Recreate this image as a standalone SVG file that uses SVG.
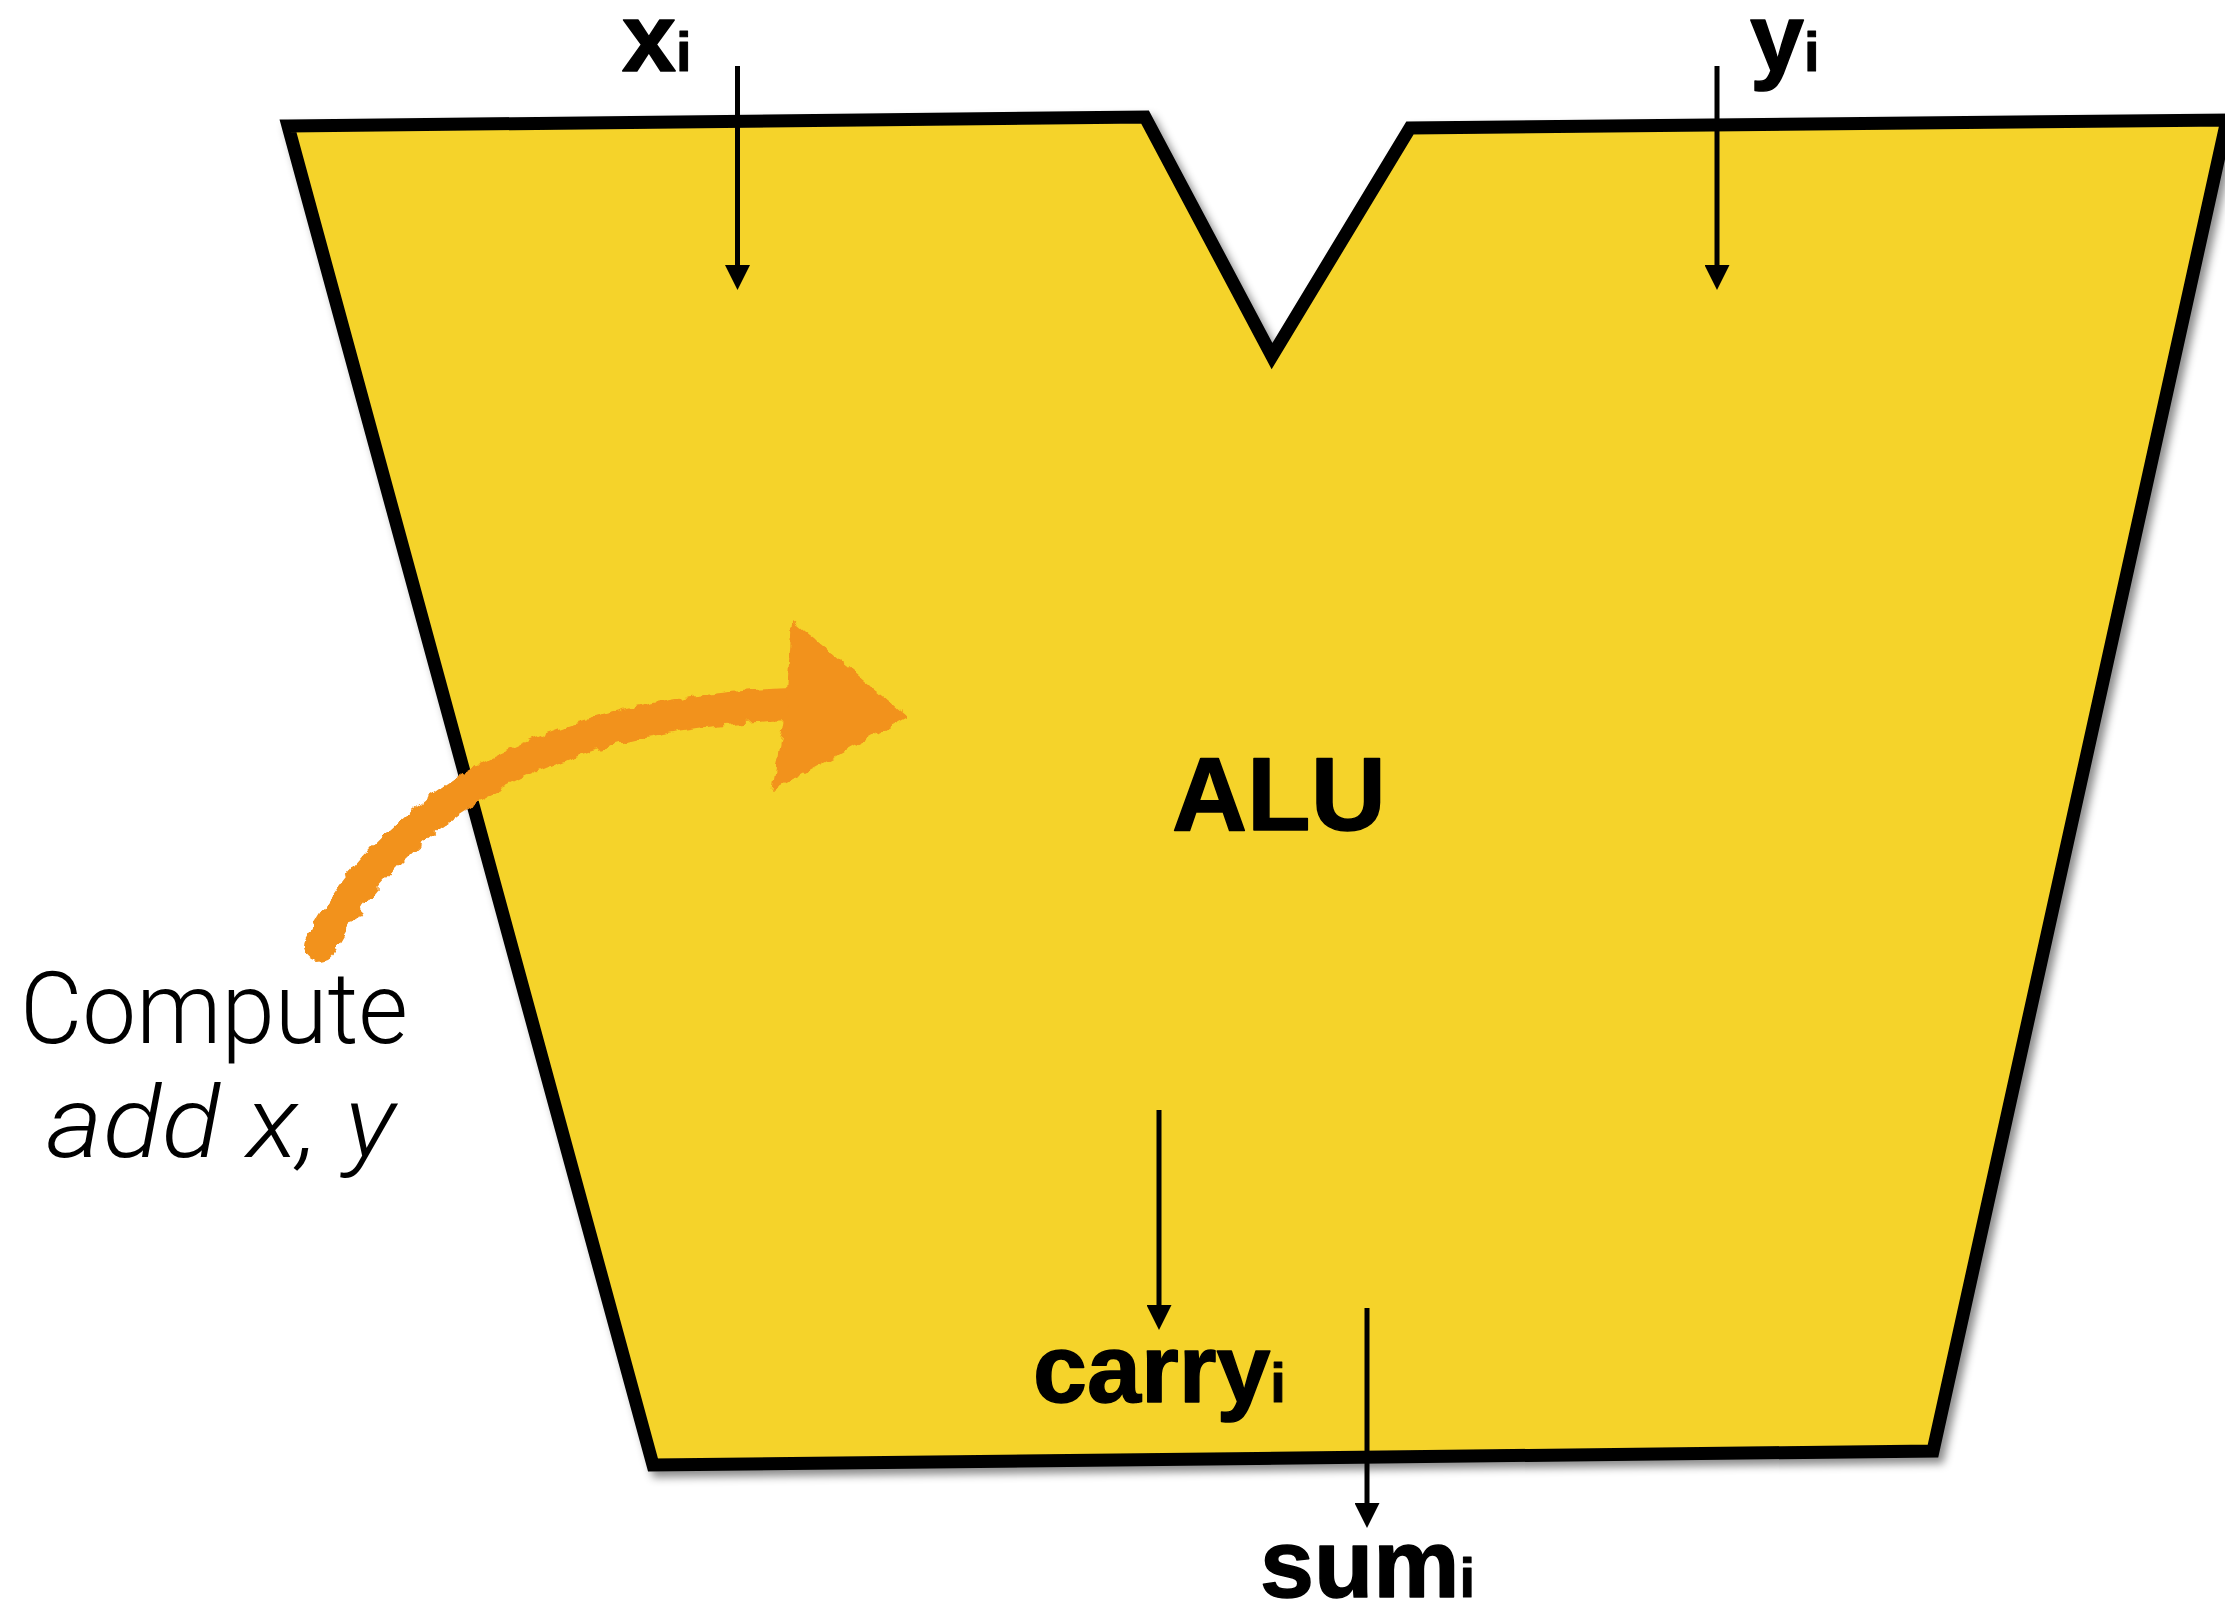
<svg xmlns="http://www.w3.org/2000/svg" width="2225" height="1614" viewBox="0 0 2225 1614">
  <style>
    .lbl { font-family: "Liberation Sans", Arial, sans-serif; font-weight: bold; fill: #000; stroke: #000; stroke-width: 1.5; stroke-linejoin: round; }
    .sub { font-size: 56px; stroke-width: 1; }
    .note { font-family: Roboto, "Liberation Sans", Arial, sans-serif; font-weight: 300; font-size: 100px; fill: #000; }
    .conn { stroke: #000; stroke-width: 5; fill: none; marker-end: url(#ah); }
  </style>
  <defs>
    <marker id="ah" viewBox="0 0 25 25" markerWidth="25" markerHeight="25" markerUnits="userSpaceOnUse" refX="5" refY="12.5" orient="auto">
      <path d="M0,0 L25,12.5 L0,25 z" fill="#000"/>
    </marker>
    <filter id="shadow" x="-5%" y="-5%" width="110%" height="110%">
      <feDropShadow dx="5" dy="6" stdDeviation="4" flood-color="#000" flood-opacity="0.45"/>
    </filter>
    <filter id="rough" x="-10%" y="-10%" width="120%" height="120%">
      <feTurbulence type="fractalNoise" baseFrequency="0.09" numOctaves="2" seed="3" result="n"/>
      <feDisplacementMap in="SourceGraphic" in2="n" scale="10" xChannelSelector="R" yChannelSelector="G"/>
    </filter>
  </defs>

  <rect width="2225" height="1614" fill="#fff"/>

  <g id="alu">
    <polygon points="288,126 1145,117 1272,356 1410,128 2227,120 1933,1451 653,1465" fill="#F5D329" stroke="#000" stroke-width="13" stroke-linejoin="miter" filter="url(#shadow)"/>
    <text class="lbl" x="1172" y="830" font-size="104">ALU</text>
  </g>

  <g id="highlight-arrow" filter="url(#rough)" fill="#F2921C">
    <path d="M320,945 C382,832 512,714 792,704" stroke="#F2921C" stroke-width="32" stroke-linecap="round" fill="none"/>
    <polygon points="792,621 907,717 772,791 786,705"/>
  </g>

  <g id="label-compute">
    <text class="note" x="20" y="1043" textLength="388" lengthAdjust="spacingAndGlyphs">Compute</text>
    <text class="note" x="46" y="1157" font-style="italic" textLength="349" lengthAdjust="spacingAndGlyphs">add x, y</text>
  </g>

  <g id="label-x">
    <text class="lbl" x="622" y="71" font-size="97">x<tspan class="sub">i</tspan></text>
  </g>
  <g id="label-y">
    <text class="lbl" x="1750" y="71" font-size="97">y<tspan class="sub">i</tspan></text>
  </g>
  <g id="label-carry">
    <text class="lbl" x="1033" y="1402" font-size="97">carry<tspan class="sub">i</tspan></text>
  </g>
  <g id="label-sum">
    <text class="lbl" x="1260" y="1597" font-size="97">sum<tspan class="sub">i</tspan></text>
  </g>

  <g id="connectors">
    <line class="conn" x1="737.5" y1="66" x2="737.5" y2="270"/>
    <line class="conn" x1="1717" y1="66" x2="1717" y2="270"/>
    <line class="conn" x1="1159" y1="1110" x2="1159" y2="1310"/>
    <line class="conn" x1="1367" y1="1308" x2="1367" y2="1508"/>
  </g>
</svg>
